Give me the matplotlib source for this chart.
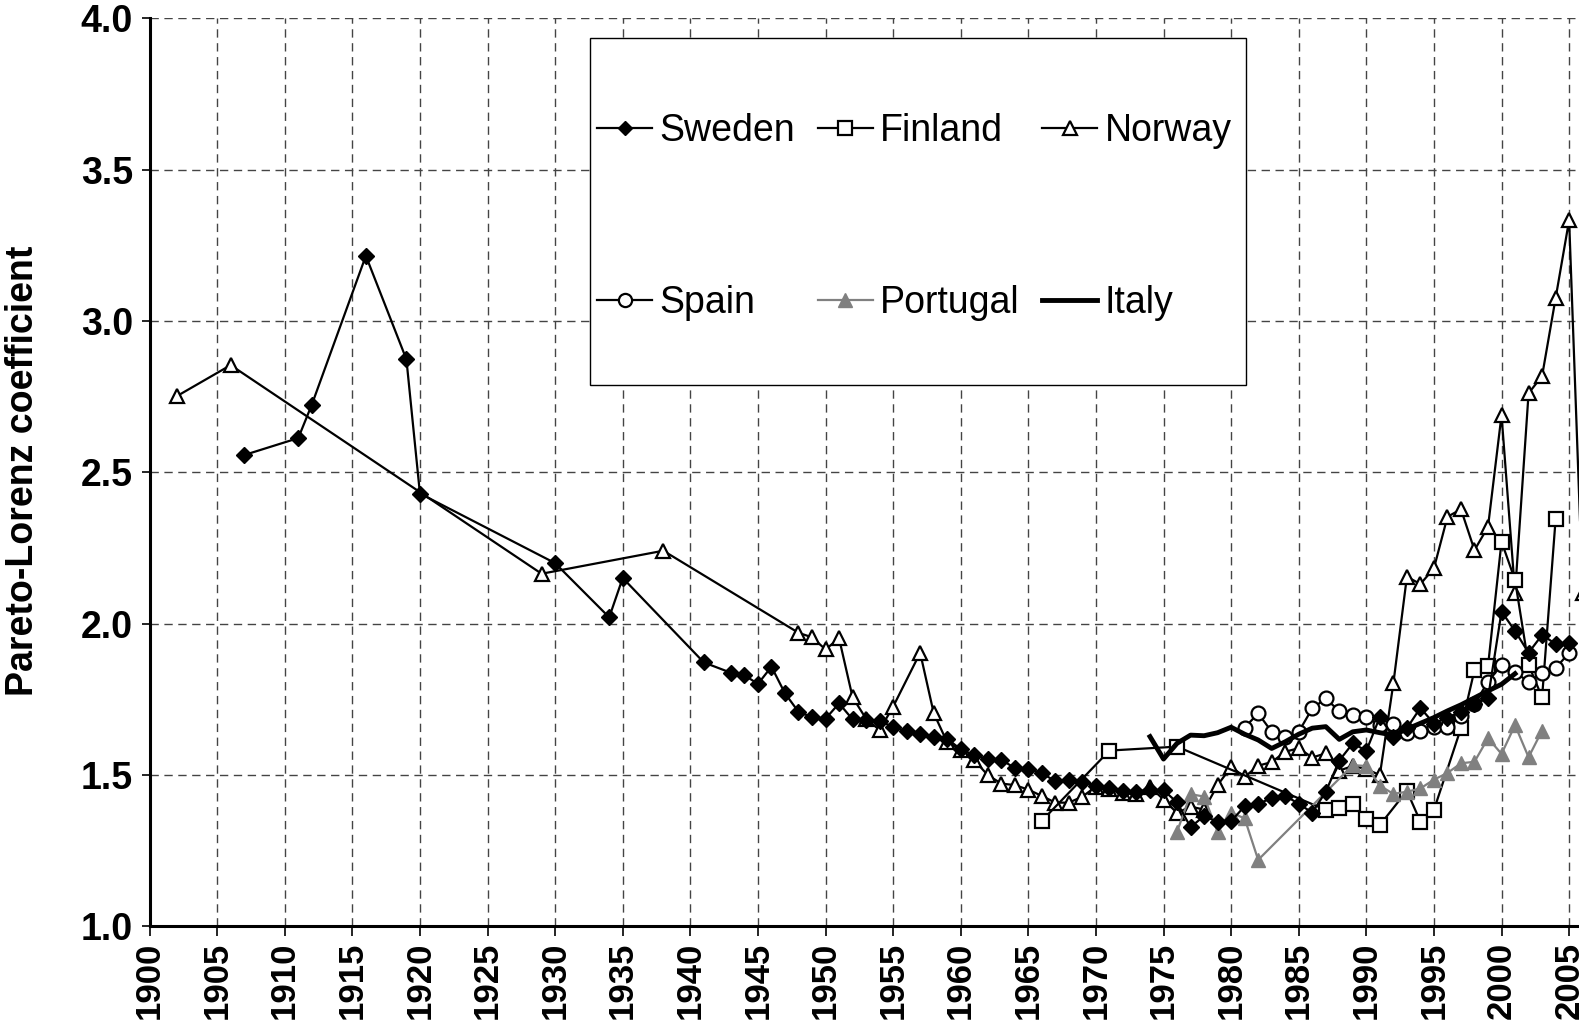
import matplotlib
matplotlib.use("Agg")
import matplotlib.pyplot as plt
from matplotlib.lines import Line2D
from matplotlib.patches import Rectangle

plt.rcParams['font.family'] = ['Liberation Sans', 'DejaVu Sans']

# ---------------- data ----------------
sweden_years = [1907, 1911, 1912, 1916, 1919, 1920, 1930, 1934, 1935, 1941,
                1943, 1944, 1945, 1946, 1947, 1948, 1949, 1950, 1951, 1952,
                1953, 1954, 1955, 1956, 1957, 1958, 1959, 1960, 1961, 1962,
                1963, 1964, 1965, 1966, 1967, 1968, 1969, 1970, 1971, 1972,
                1973, 1974, 1975, 1976, 1977, 1978, 1979, 1980, 1981, 1982,
                1983, 1984, 1985, 1986, 1987, 1988, 1989, 1990, 1991, 1992,
                1993, 1994, 1995, 1996, 1997, 1998, 1999, 2000, 2001, 2002,
                2003, 2004, 2005]
sweden_vals = [2.557, 2.613, 2.723, 3.215, 2.873, 2.430, 2.200, 2.021, 2.151, 1.872,
               1.838, 1.830, 1.801, 1.858, 1.770, 1.709, 1.691, 1.686, 1.737, 1.684,
               1.681, 1.679, 1.659, 1.645, 1.636, 1.625, 1.620, 1.585, 1.566, 1.553,
               1.551, 1.523, 1.520, 1.507, 1.479, 1.483, 1.478, 1.465, 1.458, 1.448,
               1.445, 1.450, 1.450, 1.410, 1.328, 1.365, 1.345, 1.348, 1.397, 1.404,
               1.425, 1.432, 1.405, 1.376, 1.445, 1.548, 1.605, 1.580, 1.692, 1.625,
               1.655, 1.722, 1.670, 1.690, 1.710, 1.735, 1.754, 2.040, 1.976, 1.904,
               1.963, 1.933, 1.935]

finland_years = [1966, 1971, 1976, 1987, 1988, 1989, 1990, 1991, 1993, 1994,
                 1995, 1997, 1998, 1999, 2000, 2001, 2002, 2003, 2004]
finland_vals = [1.349, 1.581, 1.594, 1.385, 1.390, 1.405, 1.355, 1.335, 1.448, 1.346,
                1.385, 1.655, 1.847, 1.860, 2.271, 2.144, 1.864, 1.757, 2.345]

norway_years = [1902, 1906, 1929, 1938, 1948, 1949, 1950, 1951, 1952, 1953,
                1954, 1955, 1957, 1958, 1959, 1960, 1961, 1962, 1963, 1964,
                1965, 1966, 1967, 1968, 1969, 1970, 1971, 1972, 1973, 1974,
                1975, 1976, 1977, 1978, 1979, 1980, 1981, 1982, 1983, 1984,
                1985, 1986, 1987, 1988, 1989, 1990, 1991, 1992, 1993, 1994,
                1995, 1996, 1997, 1998, 1999, 2000, 2001, 2002, 2003, 2004,
                2005, 2006]
norway_vals = [2.751, 2.854, 2.165, 2.241, 1.970, 1.955, 1.915, 1.952, 1.757, 1.686,
               1.649, 1.726, 1.904, 1.705, 1.608, 1.584, 1.549, 1.500, 1.472, 1.467,
               1.452, 1.431, 1.409, 1.409, 1.429, 1.462, 1.453, 1.440, 1.437, 1.462,
               1.419, 1.375, 1.396, 1.386, 1.467, 1.527, 1.494, 1.531, 1.543, 1.577,
               1.589, 1.558, 1.572, 1.515, 1.530, 1.520, 1.500, 1.803, 2.155, 2.131,
               2.183, 2.353, 2.378, 2.243, 2.320, 2.689, 2.102, 2.761, 2.818, 3.075,
               3.333, 2.100]

spain_years = list(range(1981, 2006))
spain_vals = [1.657, 1.704, 1.643, 1.627, 1.643, 1.720, 1.753, 1.711, 1.698, 1.691,
              1.665, 1.669, 1.638, 1.647, 1.658, 1.660, 1.695, 1.735, 1.808, 1.864,
              1.840, 1.808, 1.837, 1.853, 1.904]

portugal_years = [1976, 1977, 1978, 1979, 1980, 1981, 1982, 1989, 1990, 1991,
                  1992, 1993, 1994, 1995, 1996, 1997, 1998, 1999, 2000, 2001,
                  2002, 2003]
portugal_vals = [1.313, 1.437, 1.429, 1.313, 1.376, 1.357, 1.220, 1.533, 1.530, 1.465,
                 1.438, 1.445, 1.456, 1.485, 1.507, 1.539, 1.544, 1.622, 1.570, 1.665,
                 1.559, 1.647]

italy_years = list(range(1974, 2002))
italy_vals = [1.627, 1.553, 1.605, 1.632, 1.630, 1.640, 1.658, 1.635, 1.616, 1.588,
              1.610, 1.635, 1.655, 1.660, 1.618, 1.643, 1.649, 1.640, 1.632, 1.652,
              1.671, 1.690, 1.712, 1.732, 1.755, 1.778, 1.800, 1.835]

x_ticks = list(range(1900, 2010, 5))
y_ticks = [1.0, 1.5, 2.0, 2.5, 3.0, 3.5, 4.0]
y_label = "Pareto-Lorenz coefficient"

# ---------------- figure ----------------
fig = plt.figure(figsize=(15.79, 10.30), dpi=100)
ax = fig.add_axes([0.0947, 0.1005, 1 - 0.0947, 0.9824 - 0.1005])

LW = 1.6
GREY = '#808080'

ax.plot(norway_years, norway_vals, color='black', lw=LW, marker='^', ms=10.5,
        mfc='white', mec='black', mew=1.6, zorder=3, clip_on=False)
ax.plot(finland_years, finland_vals, color='black', lw=LW, marker='s', ms=10,
        mfc='white', mec='black', mew=1.6, zorder=3)
ax.plot(spain_years, spain_vals, color='black', lw=LW, marker='o', ms=10,
        mfc='white', mec='black', mew=1.6, zorder=3)
ax.plot(portugal_years, portugal_vals, color=GREY, lw=LW, marker='^', ms=10.5,
        mfc=GREY, mec=GREY, mew=1.0, zorder=3)
ax.plot(italy_years, italy_vals, color='black', lw=3.5, zorder=3)
ax.plot(sweden_years, sweden_vals, color='black', lw=LW, marker='D', ms=8.3,
        mfc='black', mec='black', mew=1.0, zorder=4)

ax.set_xlim(1900, 2005.73)
ax.set_ylim(1.0, 4.0)
ax.set_xticks(x_ticks)
ax.set_xticklabels([str(t) for t in x_ticks], rotation=90, fontsize=25,
                   fontweight='bold')
ax.set_yticks(y_ticks)
ax.set_yticklabels([f"{t:.1f}" for t in y_ticks], fontsize=27, fontweight='bold')

ax.tick_params(axis='x', direction='out', length=7, width=1.2, pad=4, color='black')
ax.tick_params(axis='y', direction='out', length=6, width=1.2, pad=6, color='black')

ax.set_axisbelow(True)
ax.grid(True, color='#444444', lw=1.0, ls=(0, (6, 4)))

for s in ['top', 'right']:
    ax.spines[s].set_visible(False)
for s in ['left', 'bottom']:
    ax.spines[s].set_linewidth(2.2)
    ax.spines[s].set_color('black')

fig.text(23 / 1579, 0.543, y_label, rotation=90, ha='center', va='center',
         fontsize=27, fontweight='bold')

# legend box
box = Rectangle((0.3082, 0.5964), 0.4586, 0.3814, transform=ax.transAxes,
                facecolor='white', edgecolor='black', lw=1.0, zorder=5)
ax.add_patch(box)

h_sweden = Line2D([], [], color='black', lw=LW, marker='D', ms=7.5, mfc='black', mec='black')
h_finland = Line2D([], [], color='black', lw=LW, marker='s', ms=9.5, mfc='white', mec='black', mew=1.6)
h_norway = Line2D([], [], color='black', lw=LW, marker='^', ms=9.5, mfc='white', mec='black', mew=1.6)
h_spain = Line2D([], [], color='black', lw=LW, marker='o', ms=9.5, mfc='white', mec='black', mew=1.6)
h_portugal = Line2D([], [], color=GREY, lw=LW, marker='^', ms=10, mfc=GREY, mec=GREY)
h_italy = Line2D([], [], color='black', lw=3.5)

handles = [h_sweden, h_spain, h_finland, h_portugal, h_norway, h_italy]
labels = ['Sweden', 'Spain', 'Finland', 'Portugal', 'Norway', 'Italy']
leg = ax.legend(handles, labels, ncol=3, loc='center',
                bbox_to_anchor=(0.5351, 0.7808), bbox_transform=ax.transAxes,
                frameon=False, fontsize=27, handlelength=1.46, handletextpad=0.2,
                columnspacing=0.6, labelspacing=3.62, borderpad=0.0)
leg.set_zorder(6)

fig.savefig("out.png", dpi=100)
